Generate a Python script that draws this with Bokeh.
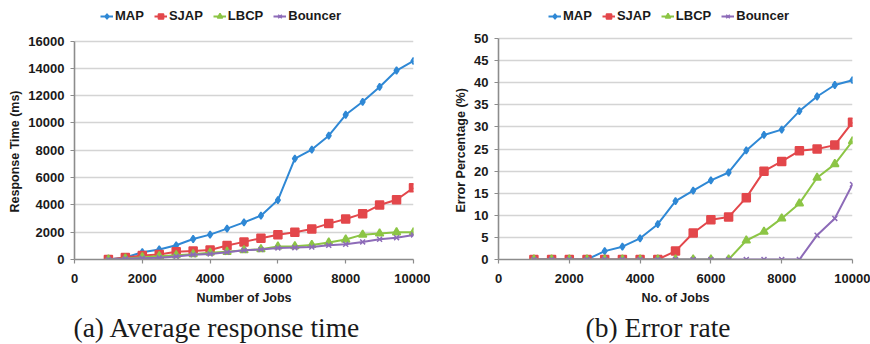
from bokeh.plotting import figure
from bokeh.models import Range1d, FixedTicker, Legend, LegendItem, Title
from bokeh.layouts import row
from bokeh.embed import file_html
from bokeh.resources import INLINE

jobs = [1000, 1500, 2000, 2500, 3000, 3500, 4000, 4500, 5000, 5500,
        6000, 6500, 7000, 7500, 8000, 8500, 9000, 9500, 10000]
series_names = ["MAP", "SJAP", "LBCP", "Bouncer"]

# (a) average response time (ms)
rt_map = [0, 150, 530, 730, 1040, 1500, 1820, 2260, 2720, 3210,
          4350, 7390, 8050, 9070, 10600, 11550, 12640, 13840, 14540]
rt_sjap = [0, 150, 290, 360, 560, 630, 700, 1020, 1290, 1560,
           1820, 1990, 2240, 2630, 2970, 3360, 3990, 4380, 5250]
rt_lbcp = [0, 70, 170, 240, 320, 390, 490, 560, 680, 750,
           950, 970, 1070, 1240, 1460, 1820, 1900, 1990, 1990]
rt_bouncer = [0, 50, 100, 120, 220, 340, 410, 530, 680, 730,
              850, 870, 920, 1040, 1120, 1290, 1480, 1600, 1800]

# (b) error percentage (%)
er_map = [0, 0, 0, 0, 1.9, 2.9, 4.8, 8.0, 13.2, 15.6,
          17.9, 19.7, 24.7, 28.2, 29.4, 33.6, 36.9, 39.5, 40.6]
er_sjap = [0, 0, 0, 0, 0, 0, 0, 0, 1.9, 6.0,
           9.0, 9.6, 14.0, 20.0, 22.2, 24.6, 25.0, 25.9, 31.1]
er_lbcp = [0, 0, 0, 0, 0, 0, 0, 0, 0, 0,
           0, 0, 4.3, 6.3, 9.3, 12.7, 18.5, 21.6, 26.8]
er_bouncer = [0, 0, 0, 0, 0, 0, 0, 0, 0, 0,
              0, 0, 0, 0, 0, 0, 5.5, 9.3, 17.0]

x_ticks = [0, 2000, 4000, 6000, 8000, 10000]
y_ticks_a = [0, 2000, 4000, 6000, 8000, 10000, 12000, 14000, 16000]
y_ticks_b = [0, 5, 10, 15, 20, 25, 30, 35, 40, 45, 50]

colors = ["#2f88d5", "#e3474b", "#8cc545", "#8d6bb8"]
markers = ["diamond", "square", "triangle", "x"]
msizes = [7, 8, 8, 7]

FONT = "Liberation Sans"
FRAME_TOP = 2       # frame extends up to hold the legend above the top tick
FRAME_BOTTOM = 260


def make_fig(series, y_ticks, top_px, xlabel, ylabel, caption, width, min_left, min_right,
             legend_x, cap_offset):
    y_max = y_ticks[-1]
    y_end = y_max * (FRAME_BOTTOM - FRAME_TOP) / (FRAME_BOTTOM - top_px)
    p = figure(width=width, height=344, output_backend="svg", toolbar_location=None,
               x_range=Range1d(0, 10000), y_range=Range1d(0, y_end),
               min_border_left=min_left, min_border_right=min_right,
               min_border_top=FRAME_TOP, min_border_bottom=344 - FRAME_BOTTOM)
    p.outline_line_color = None
    p.background_fill_color = "white"
    p.xgrid.grid_line_color = None
    p.ygrid.grid_line_color = "#d4d4d4"
    p.ygrid.grid_line_width = 1.6
    p.xaxis.ticker = FixedTicker(ticks=x_ticks)
    p.yaxis.ticker = FixedTicker(ticks=y_ticks)
    p.yaxis.bounds = (0, y_max)
    for ax in (p.xaxis[0], p.yaxis[0]):
        ax.axis_line_color = "#8c8c8c"
        ax.axis_line_width = 1.6
        ax.major_tick_line_color = "#8c8c8c"
        ax.major_tick_line_width = 1.2
        ax.major_tick_out = 4
        ax.major_tick_in = 0
        ax.minor_tick_line_color = None
        ax.major_label_text_font = FONT
        ax.major_label_text_font_style = "bold"
        ax.major_label_text_font_size = "13px"
        ax.major_label_text_color = "#1a1a1a"
        ax.axis_label_text_font = FONT
        ax.axis_label_text_font_style = "bold"
        ax.axis_label_text_font_size = "12.5px"
        ax.axis_label_text_color = "#1a1a1a"
    p.xaxis.major_label_standoff = 10
    p.yaxis.major_label_standoff = 6
    p.xaxis.axis_label = xlabel
    p.xaxis.axis_label_standoff = 5

    # y-axis title, placed along the tick range (not the whole frame)
    yt = Title(text=ylabel, align="left", offset=47, text_font=FONT,
               text_font_size="12.5px", text_font_style="bold", text_color="#1a1a1a",
               standoff=8)
    p.add_layout(yt, "left")

    items = []
    for name, ys, c, m, s in zip(series_names, series, colors, markers, msizes):
        ln = p.line(jobs, ys, line_color=c, line_width=2)
        sc = p.scatter(jobs, ys, marker=m, size=s, fill_color=c, line_color=c, line_width=1.5)
        items.append(LegendItem(label=name, renderers=[ln, sc]))
    leg = Legend(items=items, orientation="horizontal",
                 location=(legend_x, FRAME_BOTTOM - 24))
    leg.border_line_color = None
    leg.background_fill_alpha = 0
    leg.padding = 0
    leg.margin = 0
    leg.spacing = 10
    leg.glyph_width = 13
    leg.glyph_height = 14
    leg.label_standoff = 2
    leg.label_text_font = FONT
    leg.label_text_font_style = "bold"
    leg.label_text_font_size = "13px"
    leg.label_text_color = "#1a1a1a"
    leg.label_height = 14
    p.add_layout(leg, "center")

    t = Title(text=caption, align="left", offset=cap_offset, text_font="Liberation Serif",
              text_font_size="27.5px", text_font_style="normal", text_color="#1a1a1a",
              standoff=4)
    p.add_layout(t, "below")
    return p


p1 = make_fig([rt_map, rt_sjap, rt_lbcp, rt_bouncer], y_ticks_a, 40.7,
              "Number of Jobs", "Response Time (ms)", "(a) Average response time",
              430, 74, 17, 26, -1)
p2 = make_fig([er_map, er_sjap, er_lbcp, er_bouncer], y_ticks_b, 38.3,
              "No. of Jobs", "Error Percentage (%)", "(b) Error rate",
              440, 68, 18, 50, 87)

layout = row(p1, p2)
open("out.html", "w").write(file_html(layout, INLINE))
